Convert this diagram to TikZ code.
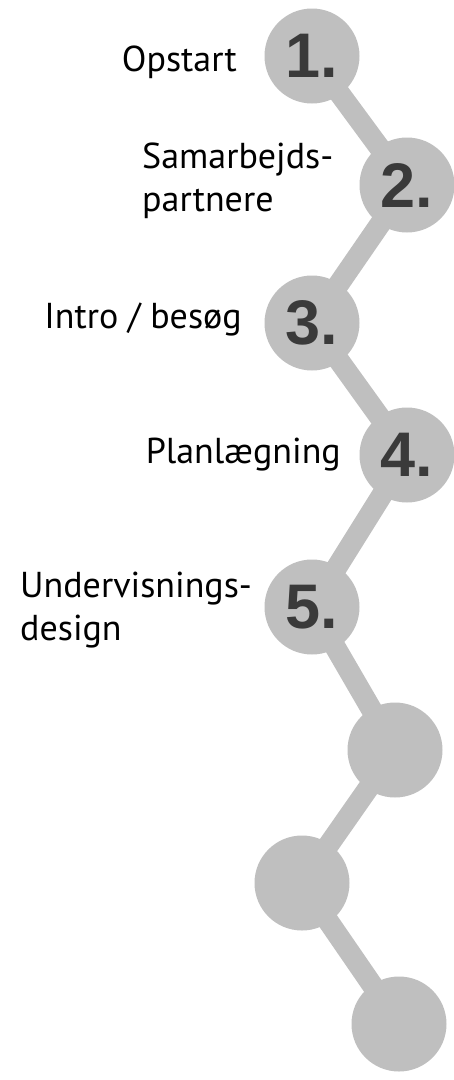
\documentclass[tikz,border=0pt]{standalone}
\usepackage{fontspec}
\setmainfont{PT Sans}
\newfontfamily\numfont{Liberation Sans}
\definecolor{step-gray}{RGB}{191, 191, 191}
\definecolor{num-gray}{RGB}{58, 58, 58}

\begin{document}
\begin{tikzpicture}[x=1pt, y=-1pt,
    stepdot/.style={circle, fill=step-gray, minimum size=95pt, inner sep=0pt,
        text=num-gray, font=\numfont\bfseries\fontsize{63}{63}\selectfont},
    link/.style={draw=step-gray, line width=21pt, shorten <=-6pt, shorten >=-6pt},
    label/.style={inner sep=0pt, font=\fontsize{36}{43.5}\selectfont, align=left}]
\useasboundingbox (0,0) rectangle (454,1080);
\node[stepdot] (s1) at (312,56) {1.};
\node[stepdot] (s2) at (407,185) {2.};
\node[stepdot] (s3) at (312,323) {3.};
\node[stepdot] (s4) at (407,455) {4.};
\node[stepdot] (s5) at (312,607) {5.};
\node[stepdot] (s6) at (395,750) {};
\node[stepdot] (s7) at (302,883) {};
\node[stepdot] (s8) at (399,1024) {};
\draw[link] (s1) -- (s2);
\draw[link] (s2) -- (s3);
\draw[link] (s3) -- (s4);
\draw[link] (s4) -- (s5);
\draw[link] (s5) -- (s6);
\draw[link] (s6) -- (s7);
\draw[link] (s7) -- (s8);
% labels
\node[label, anchor=base east] (opstart) at (237,71) {Opstart};
\node[label, anchor=west] (partner) at (142,181) {Samarbejds-\\partnere};
\node[label, anchor=base east] (intro) at (242,328) {Intro / besøg};
\node[label, anchor=base east] (plan) at (341,463) {Planlægning};
\node[label, anchor=west] (design) at (20,610) {Undervisnings-\\design};
\end{tikzpicture}
\end{document}
